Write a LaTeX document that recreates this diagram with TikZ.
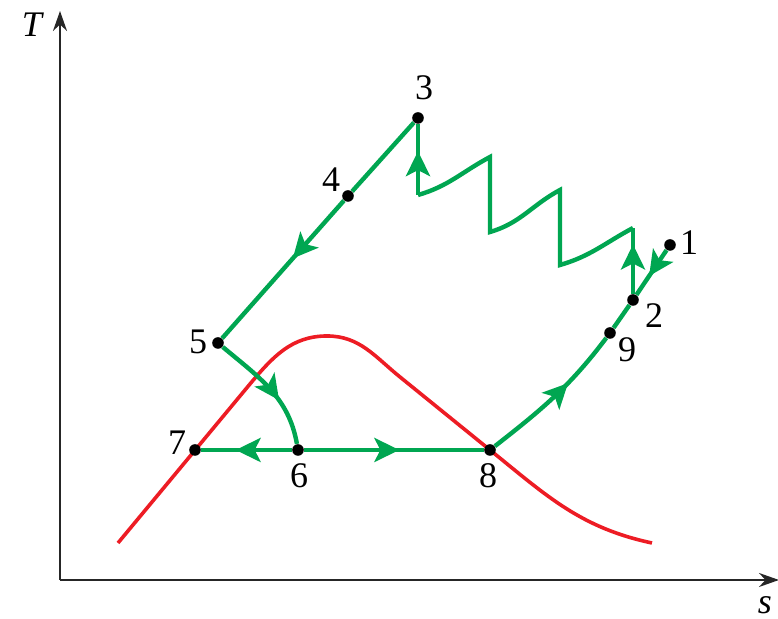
\documentclass[tikz,border=0pt]{standalone}
\usepackage{fontspec}
\setmainfont{Liberation Serif}
\definecolor{cyclegreen}{RGB}{0,166,81}
\definecolor{domered}{RGB}{237,28,36}
\usepackage{tikz}
\usetikzlibrary{arrows.meta,decorations.markings}

\begin{document}
\begin{tikzpicture}[x=0.5pt,y=0.5pt,
  axis/.style={draw=black!85, line width=1pt, -{Stealth[length=10pt,width=7pt]}},
  dome/.style={draw=domered, line width=1.8pt},
  proc/.style={color=cyclegreen, line width=2.2pt},
  dot/.style={circle, fill=black, inner sep=0pt, minimum size=5.8pt},
  num/.style={font=\fontsize{18}{20}\selectfont, inner sep=0pt},
  midarrow/.style={postaction={decorate}, decoration={markings, mark=at position #1 with {\arrow{Stealth[length=12.5pt,width=12pt,inset=3pt]}}}}
]
  \useasboundingbox (0,0) rectangle (778,619);

  % axes
  \coordinate (origin) at (60,39);
  \coordinate (ytop) at (60,608);
  \coordinate (xend) at (779,39);
  \draw[axis] (origin) -- (ytop);
  \draw[axis] (origin) -- (xend);
  \node[num, font=\fontsize{18}{20}\selectfont\itshape] (tlbl) at (32,594) {T};
  \node[num, font=\fontsize{18}{20}\selectfont\itshape] (slbl) at (765,14) {s};

  % saturation dome
  \draw[dome] (118,76) -- (250,235) to[out=50, in=180] (327,283) to[out=0, in=141] (400,242) -- (490,169) to[out=-39, in=168] (652,76);

  % states
  \node[dot] (p1) at (670,374) {};
  \node[dot] (p2) at (633,319) {};
  \node[dot] (p3) at (418,501) {};
  \node[dot] (p4) at (348,423) {};
  \node[dot] (p5) at (218,276) {};
  \node[dot] (p6) at (298,169) {};
  \node[dot] (p7) at (195,169) {};
  \node[dot] (p8) at (490,169) {};
  \node[dot] (p9) at (610,286) {};

  \node[num] (l1) at (689,376) {1};
  \node[num] (l2) at (654,303) {2};
  \node[num] (l3) at (424,531) {3};
  \node[num] (l4) at (331,439) {4};
  \node[num] (l5) at (198,277) {5};
  \node[num] (l6) at (299,143) {6};
  \node[num] (l7) at (177,176) {7};
  \node[num] (l8) at (488,143) {8};
  \node[num] (l9) at (627,269) {9};

  % sawtooth corners
  \coordinate (sa) at (418,424);
  \coordinate (sb) at (490,462);
  \coordinate (sc) at (490,387);
  \coordinate (sd) at (560,429);
  \coordinate (se) at (560,354);
  \coordinate (sf) at (633,391);

  % process lines
  \draw[proc] (p3) -- (p4);
  \draw[proc, midarrow=0.42] (p4) -- (p5);
  \draw[proc, midarrow=0.62] (p5) to[out=-40, in=100] (p6);
  \draw[proc, midarrow=0.62] (p6) -- (p7);
  \draw[proc, midarrow=0.53] (p6) -- (p8);
  \draw[proc, midarrow=0.62] (p8) to[out=38, in=233] (p9);
  \draw[proc] (p9) -- (p2);
  \draw[proc, midarrow=0.58] (p1) -- (p2);
  \draw[proc, midarrow=0.75] (p2) -- (sf);
  \draw[proc, line join=miter] (sf) to[out=208, in=16] (se) -- (sd) to[out=208, in=16] (sc) -- (sb) to[out=208, in=16] (sa);
  \draw[proc, midarrow=0.62] (sa) -- (p3);
\end{tikzpicture}
\end{document}
